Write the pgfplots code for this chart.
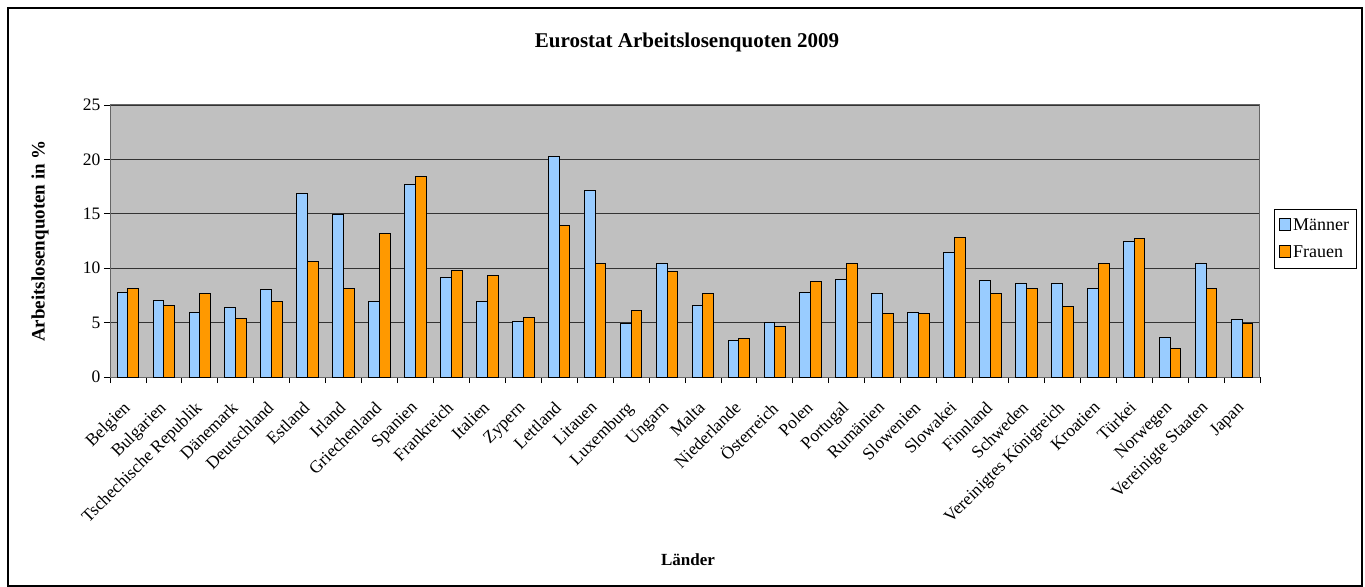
\documentclass[border=0pt]{standalone}
\usepackage{pgfplots}
\pgfplotsset{compat=1.18}
\usepackage{pgfplotstable}
\usepackage{fontspec}
\setmainfont{Liberation Serif}

\definecolor{maenner}{HTML}{99CCFF}
\definecolor{frauen}{HTML}{FF9900}
\definecolor{flaeche}{HTML}{C0C0C0}

\newcommand{\tickfont}{\fontsize{17.5bp}{20bp}\selectfont}

% Arbeitslosenquoten 2009 in %, Maenner / Frauen
\pgfplotstableread{
idx maenner frauen
0   7.8  8.1
1   7.0  6.6
2   5.9  7.7
3   6.4  5.4
4   8.0  6.9
5   16.9 10.6
6   14.9 8.1
7   6.9  13.2
8   17.7 18.4
9   9.1  9.8
10  6.9  9.3
11  5.1  5.5
12  20.3 13.9
13  17.1 10.4
14  4.9  6.1
15  10.4 9.7
16  6.6  7.7
17  3.4  3.5
18  5.0  4.6
19  7.8  8.8
20  9.0  10.4
21  7.7  5.8
22  5.9  5.8
23  11.4 12.8
24  8.9  7.7
25  8.6  8.1
26  8.6  6.5
27  8.1  10.4
28  12.5 12.7
29  3.6  2.6
30  10.4 8.1
31  5.3  4.9
}\quoten

\begin{document}
\begin{tikzpicture}
\useasboundingbox (-110bp,-210bp) rectangle (1255bp,377bp);
\begin{axis}[
    scale only axis,
    width=1150bp, height=272bp,
    xmin=-0.5, xmax=31.5,
    ymin=0, ymax=25,
    ytick={0,5,...,25},
    xtick={0,...,31},
    xticklabels={Belgien,Bulgarien,Tschechische Republik,Dänemark,Deutschland,Estland,Irland,Griechenland,Spanien,Frankreich,Italien,Zypern,Lettland,Litauen,Luxemburg,Ungarn,Malta,Niederlande,Österreich,Polen,Portugal,Rumänien,Slowenien,Slowakei,Finnland,Schweden,Vereinigtes Königreich,Kroatien,Türkei,Norwegen,Vereinigte Staaten,Japan},
    minor xtick={-0.5,0.5,...,31.5},
    major x tick style={draw=none},
    tick align=outside, tick pos=left,
    major tick length=6bp, minor tick length=6bp,
    tick style={black, line width=0.8bp},
    ymajorgrids,
    grid style={black!80, line width=0.7bp},
    axis background/.style={fill=flaeche},
    axis line style={black!60, line width=1bp},
    xticklabel style={rotate=45, anchor=north east, font=\tickfont, inner sep=1bp,
        xshift=-15bp, yshift=-7bp},
    yticklabel style={font=\tickfont},
    /pgf/number format/assume math mode=true,
    legend style={at={(1.0122,0.6176)}, anchor=north west, draw=black,
        line width=0.8bp, fill=white, font=\fontsize{18bp}{22bp}\selectfont,
        row sep=10bp, inner xsep=5bp, inner ysep=7bp},
    legend cell align=left,
    legend image code/.code={\draw[#1, line width=0.8bp] (0bp,-5bp) rectangle (11bp,7bp);},
]
\addplot[ybar, bar width=0.3, bar shift=-0.15, fill=maenner, draw=black, line width=1bp]
    table[x=idx, y=maenner] {\quoten};
\addplot[ybar, bar width=0.3, bar shift=0.15, fill=frauen, draw=black, line width=1bp]
    table[x=idx, y=frauen] {\quoten};
\legend{Männer, Frauen}
\end{axis}
\node[font=\fontsize{21bp}{25bp}\selectfont\bfseries] at (577bp,335bp) {Eurostat Arbeitslosenquoten 2009};
\node[font=\fontsize{19bp}{23bp}\selectfont\bfseries, rotate=90] at (-70bp,136bp) {Arbeitslosenquoten in \%};
\node[font=\fontsize{17bp}{20bp}\selectfont\bfseries] at (578bp,-183bp) {Länder};
\draw[black, line width=1.2bp] (-102bp,-209bp) rectangle (1252bp,369bp);
\end{tikzpicture}
\end{document}
